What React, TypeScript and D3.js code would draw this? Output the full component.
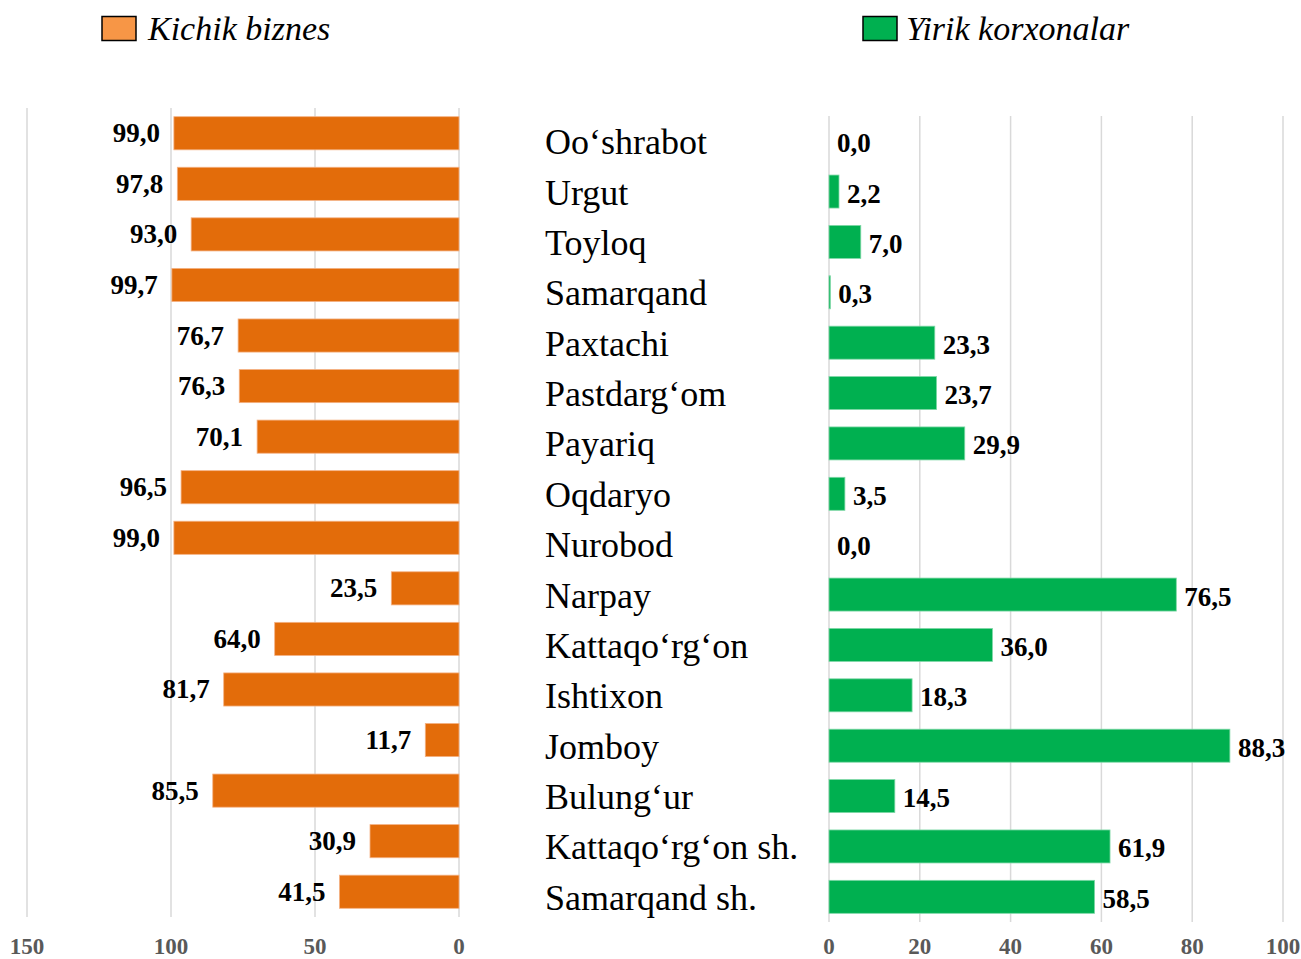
import React from 'react';
import * as d3 from 'd3';

const categories = [
  'Oo‘shrabot', 'Urgut', 'Toyloq', 'Samarqand', 'Paxtachi', 'Pastdarg‘om', 'Payariq', 'Oqdaryo',
  'Nurobod', 'Narpay', 'Kattaqo‘rg‘on', 'Ishtixon', 'Jomboy', 'Bulung‘ur', 'Kattaqo‘rg‘on sh.', 'Samarqand sh.',
];
const smallBiz = [99.0, 97.8, 93.0, 99.7, 76.7, 76.3, 70.1, 96.5, 99.0, 23.5, 64.0, 81.7, 11.7, 85.5, 30.9, 41.5];
const largeEnt = [0.0, 2.2, 7.0, 0.3, 23.3, 23.7, 29.9, 3.5, 0.0, 76.5, 36.0, 18.3, 88.3, 14.5, 61.9, 58.5];
const leftTicks = [150, 100, 50, 0];
const rightTicks = [0, 20, 40, 60, 80, 100];
const seriesNames = ['Kichik biznes', 'Yirik korxonalar'];

const W = 1301;
const H = 959;
const FONT = '"Liberation Serif", "Times New Roman", serif';
const ORANGE = '#E36C0A';
const GREEN = '#00B050';
const GRID = '#D9D9D9';

const fmt = (v: number) => d3.format('.1f')(v).replace('.', ',');

export default function App() {
  // left panel: reversed axis, 0 on the right
  const xL = d3.scaleLinear().domain([0, 150]).range([459, 27]);
  const yL = d3.scaleBand().domain(categories).range([108, 917]).paddingInner(0.345).paddingOuter(0.172);
  // right panel
  const xR = d3.scaleLinear().domain([0, 100]).range([829, 1283]);
  const yR = d3.scaleBand().domain(categories).range([116, 922]).paddingInner(0.345).paddingOuter(0.172);

  return (
    <div style={{ position: 'absolute', left: 0, top: 0 }}>
      <svg width={W} height={H} style={{ display: 'block', fontFamily: FONT }}>
        <rect width={W} height={H} fill="#fff" />

        {/* legend */}
        <rect x={102} y={16.5} width={34} height={24} fill="#F79646" stroke="#000" strokeWidth={1.5} />
        <text x={148} y={40} fontSize={34} fontStyle="italic">{seriesNames[0]}</text>
        <rect x={863} y={16.5} width={34} height={24} fill={GREEN} stroke="#000" strokeWidth={1.5} />
        <text x={906} y={40} fontSize={34} fontStyle="italic">{seriesNames[1]}</text>

        {/* grids */}
        {leftTicks.map(t => (
          <line key={'gl' + t} x1={xL(t)} x2={xL(t)} y1={108} y2={917} stroke={GRID} strokeWidth={1.5} />
        ))}
        {rightTicks.map(t => (
          <line key={'gr' + t} x1={xR(t)} x2={xR(t)} y1={116} y2={922} stroke={GRID} strokeWidth={1.5} />
        ))}

        {/* left bars */}
        {categories.map((c, i) => {
          const y = yL(c)!;
          const h = yL.bandwidth();
          return (
            <g key={'l' + c}>
              <rect x={xL(smallBiz[i])} y={y} width={xL(0) - xL(smallBiz[i])} height={h}
                fill={ORANGE} stroke="#F4B183" strokeWidth={0.8} />
              <text x={xL(smallBiz[i]) - 14} y={y + h / 2 + 9} textAnchor="end" fontSize={27} fontWeight="bold">
                {fmt(smallBiz[i])}
              </text>
            </g>
          );
        })}

        {/* right bars */}
        {categories.map((c, i) => {
          const y = yR(c)!;
          const h = yR.bandwidth();
          const w = xR(largeEnt[i]) - xR(0);
          return (
            <g key={'r' + c}>
              {w > 0 && (
                <rect x={xR(0)} y={y} width={w} height={h} fill={GREEN} stroke="#7FD8A7" strokeWidth={0.8} />
              )}
              <text x={xR(largeEnt[i]) + 8} y={y + h / 2 + 11} fontSize={27} fontWeight="bold">
                {fmt(largeEnt[i])}
              </text>
            </g>
          );
        })}

        {/* category labels */}
        {categories.map(c => (
          <text key={'c' + c} x={545} y={yR(c)! + yR.bandwidth() / 2 + 13} fontSize={36}>{c}</text>
        ))}

        {/* axis tick labels */}
        {leftTicks.map(t => (
          <text key={'tl' + t} x={xL(t)} y={954} textAnchor="middle" fontSize={23} fontWeight="bold" fill="#595959">{t}</text>
        ))}
        {rightTicks.map(t => (
          <text key={'tr' + t} x={xR(t)} y={954} textAnchor="middle" fontSize={23} fontWeight="bold" fill="#595959">{t}</text>
        ))}
      </svg>
    </div>
  );
}
